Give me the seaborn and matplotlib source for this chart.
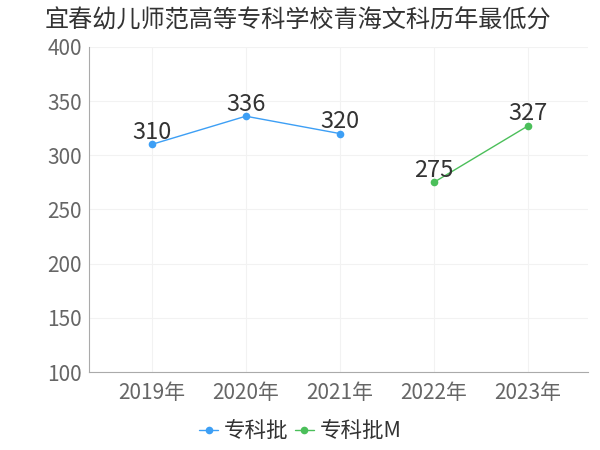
import pandas as pd
import matplotlib
matplotlib.use("Agg")
import matplotlib.pyplot as plt
import seaborn as sns

# --------------------------
# Data
# --------------------------
years = ["2019年", "2020年", "2021年", "2022年", "2023年"]
series_names = ["专科批", "专科批M"]
zk_years = ["2019年", "2020年", "2021年"]
zk_scores = [310, 336, 320]
zkm_years = ["2022年", "2023年"]
zkm_scores = [275, 327]
colors = ["#3d9ff5", "#4bbf5a"]

df = pd.concat([
    pd.DataFrame({"year": zk_years, "score": zk_scores, "batch": series_names[0]}),
    pd.DataFrame({"year": zkm_years, "score": zkm_scores, "batch": series_names[1]}),
], ignore_index=True)
df["pos"] = df["year"].map({y: i for i, y in enumerate(years)})

# --------------------------
# Plot
# --------------------------
sns.set_style("white")
plt.rcParams["font.family"] = ["Noto Sans CJK SC", "DejaVu Sans"]

fig = plt.figure(figsize=(6, 4.5), dpi=100)
ax = fig.add_axes([0.148, 0.173, 0.832, 0.723])

sns.lineplot(
    data=df, x="pos", y="score", hue="batch", hue_order=series_names,
    palette=colors, marker="o", markersize=5.5, markeredgewidth=0,
    linewidth=1.0, sort=False, ax=ax,
)

for _, row in df.iterrows():
    ax.annotate(str(row["score"]), (row["pos"], row["score"]),
                xytext=(0, 0.5), textcoords="offset points",
                ha="center", va="bottom", fontsize=17, color="#333333")

ax.set_xlim(-0.67, 4.64)
ax.set_ylim(100, 400)
ax.set_xticks(range(len(years)))
ax.set_xticklabels(years)
ax.set_yticks(range(100, 401, 50))
ax.set_xlabel("")
ax.set_ylabel("")
ax.tick_params(axis="both", labelsize=15, labelcolor="#666666",
               color="#aaaaaa", length=3, width=0.8)
ax.tick_params(axis="x", pad=4)
ax.tick_params(axis="y", pad=2)
ax.grid(True, color="#f2f2f2", linewidth=0.8)
for side in ["top", "right"]:
    ax.spines[side].set_visible(False)
for side in ["left", "bottom"]:
    ax.spines[side].set_color("#aaaaaa")
    ax.spines[side].set_linewidth(0.8)

handles, labels = ax.get_legend_handles_labels()
ax.legend(handles, labels, loc="center", bbox_to_anchor=(0.5, 0.042),
          bbox_transform=fig.transFigure, ncol=2, frameon=False,
          fontsize=15.5, handlelength=0.9, handletextpad=0.25,
          columnspacing=0.3, labelcolor="#333333")

fig.text(0.075, 0.955, "宜春幼儿师范高等专科学校青海文科历年最低分",
         fontsize=17.4, color="#333333", ha="left", va="center")

fig.savefig("out.png", dpi=100)
